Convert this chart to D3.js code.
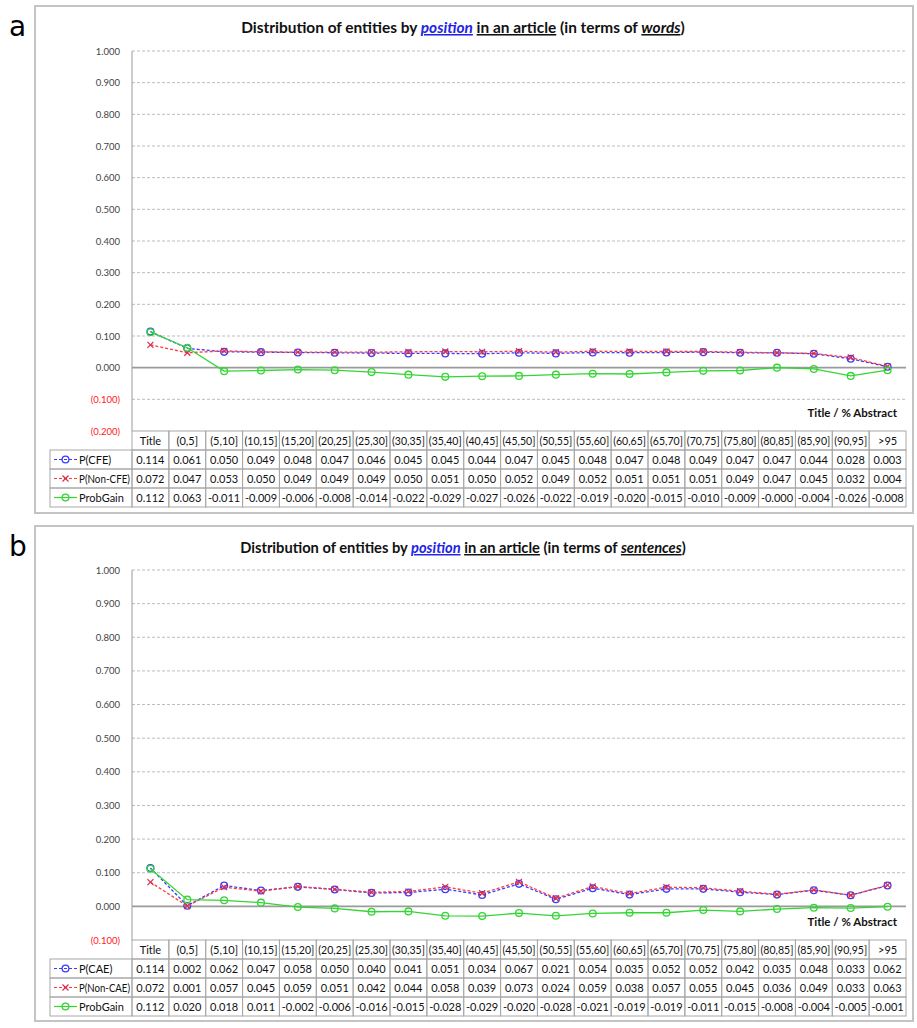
<!DOCTYPE html>
<html>
<head>
<meta charset="utf-8">
<script src="https://d3js.org/d3.v7.min.js"></script>
<style>
  body { margin: 0; background: #fff; }
  svg { font-family: Lato, "Open Sans", sans-serif; }
  .cell { font-size: 11px; fill: #111; }
  .ytick text { font-size: 9.5px; }
</style>
</head>
<body>
<svg id="chart" width="917" height="1028"></svg>
<script>
// categories (x positions in the article)
var categories = ["Title","(0,5]","(5,10]","(10,15]","(15,20]","(20,25]","(25,30]","(30,35]","(35,40]","(40,45]","(45,50]","(50,55]","(55,60]","(60,65]","(65,70]","(70,75]","(75,80]","(80,85]","(85,90]","(90,95]",">95"];

// panel a : words
var pCFE    = [0.114,0.061,0.050,0.049,0.048,0.047,0.046,0.045,0.045,0.044,0.047,0.045,0.048,0.047,0.048,0.049,0.047,0.047,0.044,0.028,0.003];
var pNonCFE = [0.072,0.047,0.053,0.050,0.049,0.049,0.049,0.050,0.051,0.050,0.052,0.049,0.052,0.051,0.051,0.051,0.049,0.047,0.045,0.032,0.004];
var gainA   = [0.112,0.063,-0.011,-0.009,-0.006,-0.008,-0.014,-0.022,-0.029,-0.027,-0.026,-0.022,-0.019,-0.020,-0.015,-0.010,-0.009,-0,-0.004,-0.026,-0.008];

// panel b : sentences
var pCAE    = [0.114,0.002,0.062,0.047,0.058,0.050,0.040,0.041,0.051,0.034,0.067,0.021,0.054,0.035,0.052,0.052,0.042,0.035,0.048,0.033,0.062];
var pNonCAE = [0.072,0.001,0.057,0.045,0.059,0.051,0.042,0.044,0.058,0.039,0.073,0.024,0.059,0.038,0.057,0.055,0.045,0.036,0.049,0.033,0.063];
var gainB   = [0.112,0.020,0.018,0.011,-0.002,-0.006,-0.016,-0.015,-0.028,-0.029,-0.020,-0.028,-0.021,-0.019,-0.019,-0.011,-0.015,-0.008,-0.004,-0.005,-0.001];

// y ticks
var yTicksA = [-0.2,-0.1,0,0.1,0.2,0.3,0.4,0.5,0.6,0.7,0.8,0.9,1.0];
var yTicksB = [-0.1,0,0.1,0.2,0.3,0.4,0.5,0.6,0.7,0.8,0.9,1.0];

var BLUE = "#3b3bff", RED = "#ff3b3b", GREEN = "#33d633";
var svg = d3.select("#chart");

function fmtVal(v) {
  var neg = v < 0 || Object.is(v, -0);
  return (neg ? "-" : "") + Math.abs(v).toFixed(3);
}
function fmtTick(v) {
  v = Math.round(v * 1000) / 1000;
  return v < 0 ? "(" + Math.abs(v).toFixed(3) + ")" : v.toFixed(3);
}
// squeeze a text when it is wider than its cell
function fit(t, maxW) {
  var w = t.node().getComputedTextLength();
  if (w > maxW) t.attr("textLength", maxW).attr("lengthAdjust", "spacingAndGlyphs");
  return t;
}

function drawPanel(p) {
  var g = svg.append("g");

  // frame + letter
  g.append("rect").attr("x", 35).attr("y", p.boxTop).attr("width", 878).attr("height", p.boxH)
    .attr("fill", "#fff").attr("stroke", "#c4c4c4").attr("stroke-width", 2);
  g.append("text").attr("x", 9).attr("y", p.boxTop + 30).attr("font-family", "'DejaVu Sans', sans-serif")
    .attr("font-size", 28).text(p.letter);

  // title
  var t = g.append("text").attr("x", 463).attr("y", p.titleY).attr("text-anchor", "middle")
    .attr("font-weight", "bold").attr("font-size", 16).attr("fill", "#111");
  t.append("tspan").text("Distribution  of entities by ");
  t.append("tspan").attr("fill", "#2323e6").attr("font-style", "italic").attr("text-decoration", "underline").text("position");
  t.append("tspan").text(" ");
  t.append("tspan").attr("text-decoration", "underline").text("in an article");
  t.append("tspan").text(" (in terms of ");
  t.append("tspan").attr("font-style", "italic").attr("text-decoration", "underline").text(p.unit);
  t.append("tspan").text(")");
  var tw = t.node().getComputedTextLength();
  t.attr("font-size", 16 * p.titleW / tw);

  var x = d3.scaleBand().domain(categories).range([132, 906]);
  var y = d3.scaleLinear().domain(p.yDomain).range([p.yBottom, p.yTop]);
  var cx = function(d, i) { return x(categories[i]) + x.bandwidth() / 2; };

  // gridlines
  g.selectAll(".grid").data(p.yTicks.filter(function(v) { return v !== 0 && v !== p.yDomain[0]; }))
    .enter().append("line")
    .attr("x1", 132).attr("x2", 906)
    .attr("y1", function(d) { return y(d); }).attr("y2", function(d) { return y(d); })
    .attr("stroke", "#bdbdbd").attr("stroke-dasharray", "3,2").attr("stroke-width", 1);
  g.append("line").attr("x1", 132).attr("x2", 906).attr("y1", y(0)).attr("y2", y(0))
    .attr("stroke", "#9a9a9a").attr("stroke-width", 1.6);
  g.append("line").attr("x1", 132).attr("x2", 132).attr("y1", p.yTop).attr("y2", p.yBottom)
    .attr("stroke", "#9a9a9a").attr("stroke-width", 1);

  // y axis labels
  var ax = g.append("g").attr("class", "ytick").attr("transform", "translate(132,0)")
    .call(d3.axisLeft(y).tickValues(p.yTicks).tickSize(0).tickPadding(12).tickFormat(fmtTick));
  ax.select(".domain").remove();
  ax.selectAll("text").attr("fill", function(d) { return d < 0 ? "#ff2020" : "#444"; })
    .style("font-family", "Lato, sans-serif");

  // axis title
  g.append("text").attr("x", 897).attr("y", p.yBottom - 14).attr("text-anchor", "end")
    .attr("font-weight", "bold").attr("font-size", 11.5).attr("fill", "#111").text("Title / % Abstract");

  // series
  var series = [
    { name: p.names[0], data: p.s1, color: BLUE, dash: "3,2", marker: "circle" },
    { name: p.names[1], data: p.s2, color: RED, dash: "3,2", marker: "x" },
    { name: "ProbGain", data: p.s3, color: GREEN, dash: null, marker: "circle" }
  ];
  series.forEach(function(s) {
    var line = d3.line().x(cx).y(function(d) { return y(d); });
    g.append("path").attr("d", line(s.data)).attr("fill", "none").attr("stroke", s.color)
      .attr("stroke-width", 1.3).attr("stroke-dasharray", s.dash);
    drawMarkers(g, s, s.data.map(function(d, i) { return [cx(d, i), y(d)]; }));
  });

  // table
  var rowH = 19, top = p.yBottom, bw = x.bandwidth();
  var tg = g.append("g");
  var colsX = categories.map(function(c) { return x(c); });
  // header
  colsX.forEach(function(cxl, i) {
    tg.append("rect").attr("x", cxl).attr("y", top).attr("width", bw).attr("height", rowH)
      .attr("fill", "none").attr("stroke", "#a8a8a8");
    fit(tg.append("text").attr("class", "cell").attr("x", cxl + bw / 2).attr("y", top + 13.5)
      .attr("text-anchor", "middle").text(categories[i]), bw - 4);
  });
  series.forEach(function(s, r) {
    var ry = top + rowH * (r + 1);
    tg.append("rect").attr("x", 50).attr("y", ry).attr("width", 82).attr("height", rowH)
      .attr("fill", "none").attr("stroke", "#a8a8a8");
    var ly = ry + rowH / 2;
    tg.append("line").attr("x1", 54).attr("x2", 77).attr("y1", ly).attr("y2", ly)
      .attr("stroke", s.color).attr("stroke-width", 1.2).attr("stroke-dasharray", s.dash);
    drawMarkers(tg, s, [[65.5, ly]]);
    fit(tg.append("text").attr("class", "cell").attr("x", 79).attr("y", ry + 13.5).text(s.name), 51);
    s.data.forEach(function(v, i) {
      tg.append("rect").attr("x", colsX[i]).attr("y", ry).attr("width", bw).attr("height", rowH)
        .attr("fill", "none").attr("stroke", "#a8a8a8");
      fit(tg.append("text").attr("class", "cell").attr("x", colsX[i] + bw / 2).attr("y", ry + 13.5)
        .attr("text-anchor", "middle").text(fmtVal(v)), bw - 4);
    });
  });
}

function drawMarkers(g, s, pts) {
  if (s.marker === "circle") {
    g.selectAll(null).data(pts).enter().append("circle")
      .attr("cx", function(d) { return d[0]; }).attr("cy", function(d) { return d[1]; })
      .attr("r", 3.4).attr("fill", "none").attr("stroke", s.color).attr("stroke-width", 1.3);
  } else {
    var k = 3;
    g.selectAll(null).data(pts).enter().append("path")
      .attr("d", function(d) {
        return "M" + (d[0] - k) + "," + (d[1] - k) + "L" + (d[0] + k) + "," + (d[1] + k) +
               "M" + (d[0] - k) + "," + (d[1] + k) + "L" + (d[0] + k) + "," + (d[1] - k);
      })
      .attr("stroke", "#d92b4a").attr("stroke-width", 1.2).attr("fill", "none");
  }
}

drawPanel({ letter: "a", boxTop: 6, boxH: 507, titleY: 33, titleW: 444, unit: "words",
  yDomain: [-0.2, 1.0], yTop: 51, yBottom: 431, yTicks: yTicksA,
  names: ["P(CFE)", "P(Non-CFE)"], s1: pCFE, s2: pNonCFE, s3: gainA });

drawPanel({ letter: "b", boxTop: 526, boxH: 495, titleY: 553, titleW: 446, unit: "sentences",
  yDomain: [-0.1, 1.0], yTop: 570, yBottom: 940, yTicks: yTicksB,
  names: ["P(CAE)", "P(Non-CAE)"], s1: pCAE, s2: pNonCAE, s3: gainB });
</script>
</body>
</html>
